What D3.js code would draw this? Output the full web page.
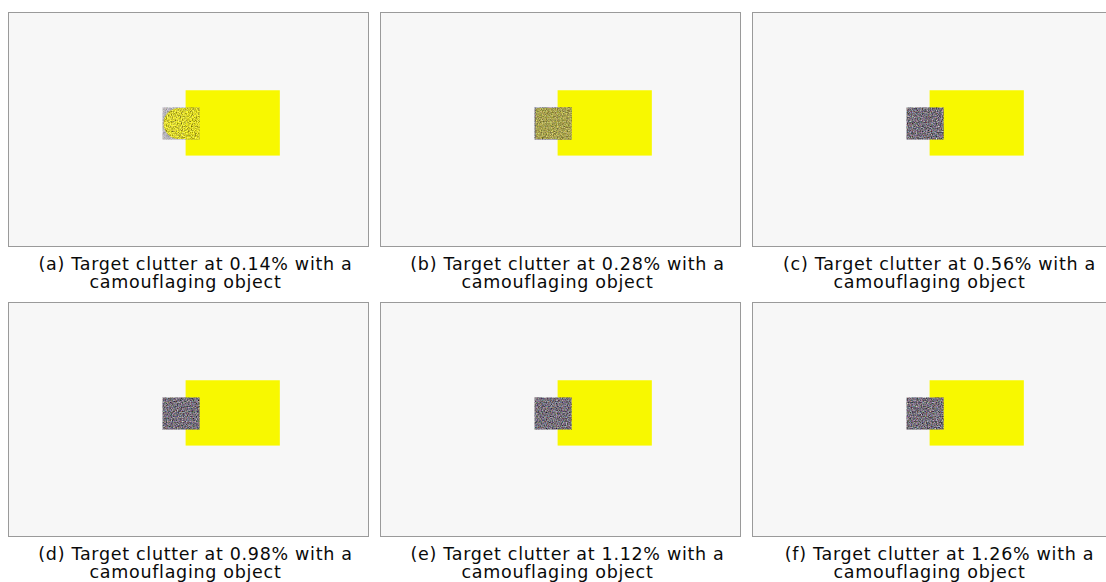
<!DOCTYPE html>
<html>
<head>
<meta charset="utf-8">
<script src="https://cdn.jsdelivr.net/npm/d3@7"></script>
<style>
  html, body { margin: 0; padding: 0; background: #ffffff; }
  svg { display: block; }
</style>
</head>
<body>
<svg id="chart" width="1106" height="582"></svg>
<script>
// ---- data ----
const panelLetters = ["a", "b", "c", "d", "e", "f"];
const clutterPercent = [0.14, 0.28, 0.56, 0.98, 1.12, 1.26];
const captionSuffix = "camouflaging object";
// object extents in normalised image coordinates [x0, x1], [y0, y1]
const camouflageX = [0.492, 0.753];
const camouflageY = [0.333, 0.611];
const targetX = [0.428, 0.531];
const targetY = [0.406, 0.543];

// ---- layout ----
const panelW = 361, panelH = 235;
const svg = d3.select("#chart");
const defs = svg.append("defs");

const col = d3.scaleOrdinal().domain([0, 1, 2]).range([8, 380, 752]);
const row = d3.scaleOrdinal().domain([0, 1]).range([12, 302]);
// how much of the target still looks yellow, by clutter level
const yellowMix = d3.scaleLinear().domain([0.14, 0.28, 0.56]).range([0.92, 0.5, 0.0]).clamp(true);
const blobRound = d3.scaleLinear().domain([0.14, 0.28]).range([0.48, 0.05]).clamp(true);
const grayStrength = d3.scaleLinear().domain([0.14, 0.28]).range([0.5, 1]).clamp(true);

// noise filters
panelLetters.forEach((l, i) => {
  // gray, multi-coloured clutter
  const f = defs.append("filter").attr("id", "grayNoise" + i)
    .attr("x", 0).attr("y", 0).attr("width", 1).attr("height", 1)
    .attr("color-interpolation-filters", "sRGB");
  f.append("feTurbulence").attr("type", "fractalNoise").attr("baseFrequency", 0.8)
    .attr("numOctaves", 2).attr("seed", i * 7 + 3).attr("result", "n");
  f.append("feColorMatrix").attr("in", "n").attr("type", "matrix")
    .attr("values", "0.8 0.35 0.35 0 -0.29  0.35 0.75 0.35 0 -0.29  0.35 0.35 0.8 0 -0.27  0 0 0 0 1")
    .attr("result", "c");
  f.append("feComposite").attr("in", "c").attr("in2", "SourceGraphic").attr("operator", "in");

  // yellow clutter
  const g = defs.append("filter").attr("id", "yellowNoise" + i)
    .attr("x", 0).attr("y", 0).attr("width", 1).attr("height", 1)
    .attr("color-interpolation-filters", "sRGB");
  g.append("feTurbulence").attr("type", "fractalNoise").attr("baseFrequency", 0.8)
    .attr("numOctaves", 2).attr("seed", i * 11 + 5).attr("result", "n");
  g.append("feColorMatrix").attr("in", "n").attr("type", "matrix")
    .attr("values", "0.8 0.8 0 0 0.05  0.7 0.9 0 0 0.03  0.3 0.3 0.5 0 -0.4  0 0 0 0 1")
    .attr("result", "c");
  g.append("feComposite").attr("in", "c").attr("in2", "SourceGraphic").attr("operator", "in");

  defs.append("clipPath").attr("id", "clipT" + i).append("rect");
});

const panels = svg.selectAll("g.panel")
  .data(panelLetters.map((l, i) => ({ letter: l, clutter: clutterPercent[i], i })))
  .join("g").attr("class", "panel");

panels.each(function (d) {
  const g = d3.select(this);
  const px = col(d.i % 3), py = row(Math.floor(d.i / 3));
  const x = d3.scaleLinear().domain([0, 1]).range([px, px + panelW]);
  const y = d3.scaleLinear().domain([0, 1]).range([py, py + panelH]);

  // image background
  g.append("rect").attr("x", x(0) + 0.5).attr("y", y(0) + 0.5)
    .attr("width", panelW - 1).attr("height", panelH - 1)
    .attr("fill", "#f7f7f7").attr("stroke", "#9a9a9a").attr("stroke-width", 1);

  // camouflaging object
  g.append("rect")
    .attr("x", x(camouflageX[0])).attr("y", y(camouflageY[0]))
    .attr("width", x(camouflageX[1]) - x(camouflageX[0]))
    .attr("height", y(camouflageY[1]) - y(camouflageY[0]))
    .attr("fill", "#f8f800");

  // target with clutter
  const tx = x(targetX[0]), ty = y(targetY[0]);
  const tw = x(targetX[1]) - tx, th = y(targetY[1]) - ty;
  d3.select("#clipT" + d.i).select("rect").attr("x", tx).attr("y", ty).attr("width", tw).attr("height", th);

  g.append("rect").attr("x", tx).attr("y", ty).attr("width", tw).attr("height", th)
    .attr("fill", "#000").attr("opacity", grayStrength(d.clutter))
    .attr("filter", `url(#grayNoise${d.i})`);

  const mix = yellowMix(d.clutter);
  if (mix > 0) {
    const r = th * blobRound(d.clutter);
    g.append("g").attr("clip-path", `url(#clipT${d.i})`)
      .append("rect").attr("x", tx + 1).attr("y", ty + 0.5)
      .attr("width", tw + r).attr("height", th - 1)
      .attr("rx", r).attr("ry", r * 1.05)
      .attr("fill", "#000").attr("opacity", mix)
      .attr("filter", `url(#yellowNoise${d.i})`);
  }

  // caption
  const cx = x(0.5);
  const t = g.append("text").attr("text-anchor", "middle")
    .attr("font-family", "'DejaVu Sans', Verdana, sans-serif")
    .attr("font-size", 17.5).attr("letter-spacing", 0.7).attr("fill", "#0a0a0a");
  t.append("tspan").attr("x", cx + 7).attr("y", y(1) + 23)
    .text(`(${d.letter}) Target clutter at ${d.clutter.toFixed(2)}% with a`);
  t.append("tspan").attr("x", cx - 3).attr("y", y(1) + 41).text(captionSuffix);
});
</script>
</body>
</html>
